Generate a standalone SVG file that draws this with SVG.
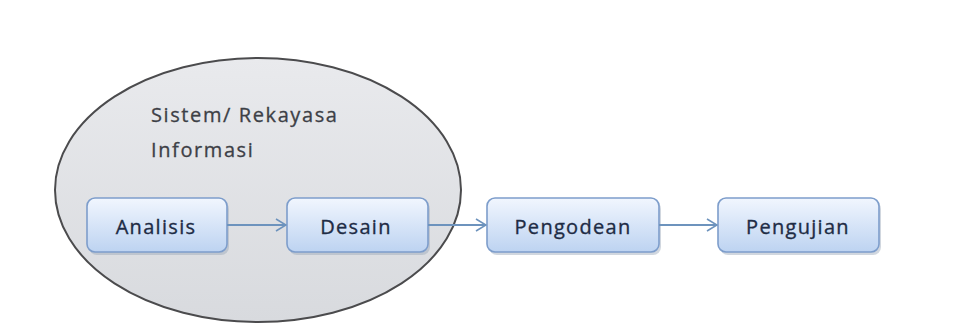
<svg xmlns="http://www.w3.org/2000/svg" width="963" height="328" viewBox="0 0 963 328">
<defs>
<linearGradient id="boxg" x1="0" y1="0" x2="0" y2="1">
<stop offset="0" stop-color="#f1f6fe"/>
<stop offset="1" stop-color="#bdd3f1"/>
</linearGradient>
<linearGradient id="ellg" x1="0" y1="0" x2="0" y2="1">
<stop offset="0" stop-color="#e9eaed"/>
<stop offset="1" stop-color="#d8dade"/>
</linearGradient>
<marker id="arr" viewBox="0 0 12 14" refX="11" refY="7" markerWidth="12" markerHeight="14" markerUnits="userSpaceOnUse" orient="auto">
<path d="M1,1 L11,7 L1,13" fill="none" stroke="#6d93bd" stroke-width="1.6"/>
</marker>
</defs>
<style>
.box{fill:url(#boxg);stroke:#7d9dcb;stroke-width:1.6}
.shadow{fill:#9aa7b8;opacity:0.45}
.lbl{font-family:"Open Sans","DejaVu Sans",sans-serif;font-size:20px;font-weight:500;fill:#1e2c45;text-anchor:middle;letter-spacing:1.3px;stroke:#1e2c45;stroke-width:0.35px}
.title{font-family:"Open Sans","DejaVu Sans",sans-serif;font-size:20px;font-weight:400;fill:#3d4046;letter-spacing:1.6px;stroke:#3d4046;stroke-width:0.3px}
.conn{stroke:#6d93bd;stroke-width:1.8;fill:none;marker-end:url(#arr)}
</style>
<rect width="963" height="328" fill="#ffffff"/>
<g id="scope">
<ellipse cx="258" cy="190" rx="203" ry="132" fill="url(#ellg)" stroke="#4b4b4d" stroke-width="2"/>
<text class="title" x="151" y="122">Sistem/ Rekayasa</text>
<text class="title" x="151" y="157">Informasi</text>
</g>
<g id="analisis">
<rect class="shadow" x="89" y="201" width="140" height="54" rx="8"/>
<rect class="box" x="87" y="198" width="140" height="54" rx="8"/>
<text class="lbl" x="156" y="234">Analisis</text>
</g>
<g id="desain">
<rect class="shadow" x="289" y="201" width="141" height="54" rx="8"/>
<rect class="box" x="287" y="198" width="141" height="54" rx="8"/>
<text class="lbl" x="356" y="234">Desain</text>
</g>
<g id="pengodean">
<rect class="shadow" x="489" y="201" width="172" height="54" rx="8"/>
<rect class="box" x="487" y="198" width="172" height="54" rx="8"/>
<text class="lbl" x="573" y="234">Pengodean</text>
</g>
<g id="pengujian">
<rect class="shadow" x="720" y="201" width="161" height="54" rx="8"/>
<rect class="box" x="718" y="198" width="161" height="54" rx="8"/>
<text class="lbl" x="798" y="234">Pengujian</text>
</g>
<g id="connectors">
<line class="conn" x1="227" y1="225" x2="286" y2="225"/>
<line class="conn" x1="428" y1="225" x2="486" y2="225"/>
<line class="conn" x1="659" y1="225" x2="717" y2="225"/>
</g>
</svg>
